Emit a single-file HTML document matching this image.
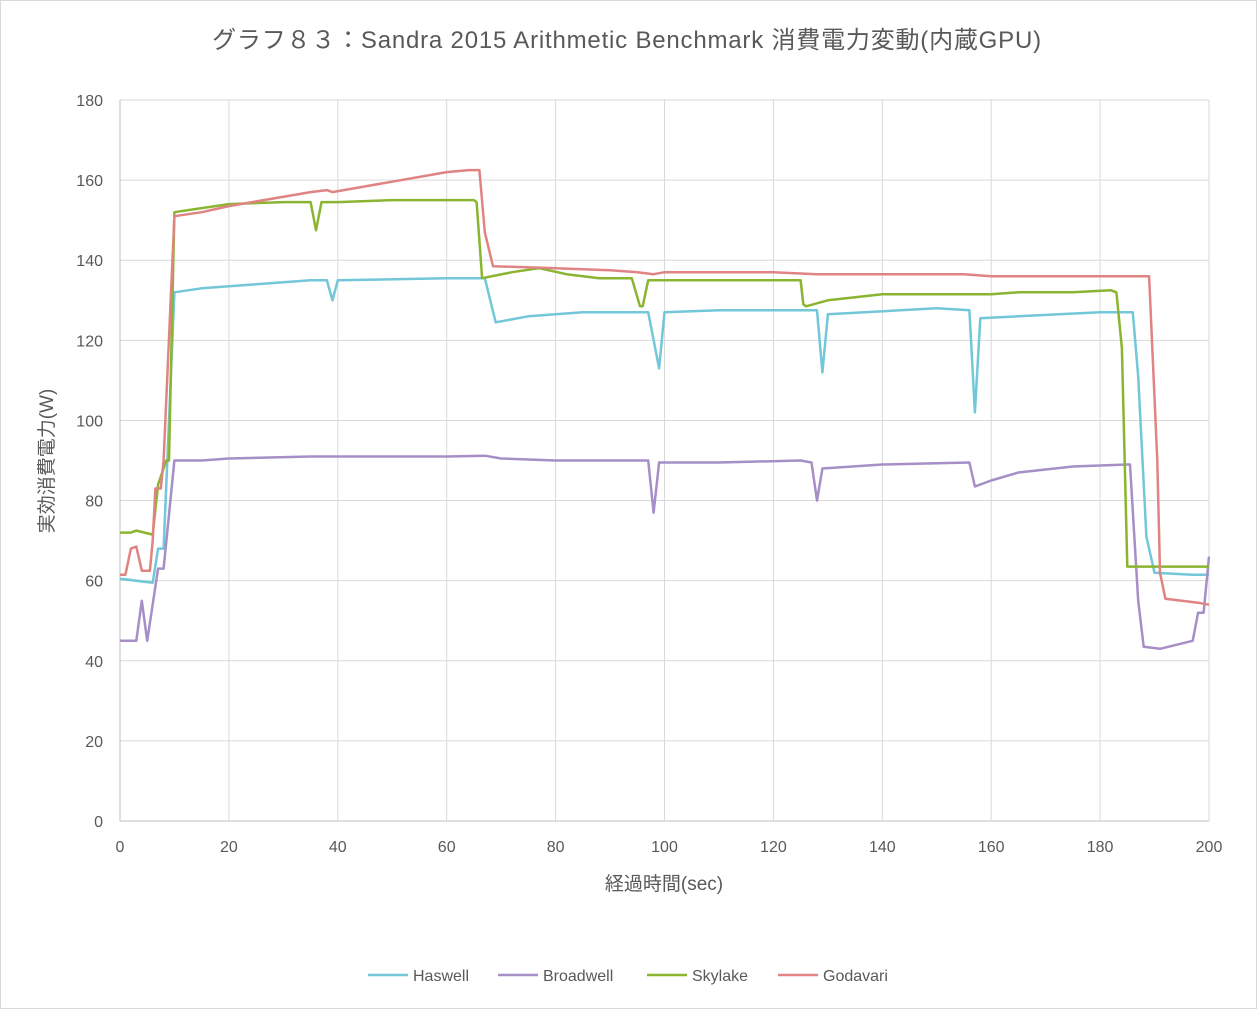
<!DOCTYPE html>
<html><head><meta charset="utf-8"><style>
body{margin:0;background:#fff;font-family:"Liberation Sans","Noto Sans CJK JP",sans-serif;}
svg text{font-family:"Liberation Sans","Noto Sans CJK JP",sans-serif;fill:#595959;}
</style></head><body>
<svg id="chart" width="1257" height="1009" xmlns="http://www.w3.org/2000/svg">
<rect x="0.5" y="0.5" width="1256" height="1008" fill="#fff" stroke="#d9d9d9"/>
<text x="627" y="48" text-anchor="middle" font-size="24" letter-spacing="0.8">グラフ８３：Sandra 2015 Arithmetic Benchmark 消費電力変動(内蔵GPU)</text>
<g id="grid"></g><g id="axes"></g><g id="series"></g>
<text x="664" y="890" text-anchor="middle" font-size="19">経過時間(sec)</text>
<text transform="translate(53,461) rotate(-90)" text-anchor="middle" font-size="19">実効消費電力(W)</text>
<g id="legend"></g>
</svg>
<script>
const xTicks=[0,20,40,60,80,100,120,140,160,180,200];
const yTicks=[0,20,40,60,80,100,120,140,160,180];
const seriesNames=["Haswell","Broadwell","Skylake","Godavari"];
const seriesColors=["#72c7d8","#a58fc6","#8bb531","#df8482"];
const haswellT=[0,6,7,8,10,15,25,35,38,39,40,60,67,69,75,85,97,99,100,110,128,129,130,150,156,157,158,165,180,186,187,188.5,190,197,200];
const haswellV=[60.5,59.5,68,68,132,133,134,135,135,130,135,135.5,135.5,124.5,126,127,127,113,127,127.5,127.5,112,126.5,128,127.5,102,125.5,126,127,127,111,71,62,61.5,61.5];
const broadwellT=[0,3,4,5,7,8,10,15,20,35,60,67,70,80,97,98,99,110,125,127,128,129,140,156,157,160,165,175,185,185.5,187,188,191,197,198,199,200];
const broadwellV=[45,45,55,45,63,63,90,90,90.5,91,91,91.2,90.5,90,90,77,89.5,89.5,90,89.5,80,88,89,89.5,83.5,85,87,88.5,89,89,55,43.5,43,45,52,52,66];
const skylakeT=[0,2,3,6,7,8.5,9,10,15,20,30,35,36,37,40,50,65,65.5,66.5,72,77,82,88,94,95.5,96,97,110,125,125.5,126,130,140,155,160,165,175,182,183,184,185,200];
const skylakeV=[72,72,72.5,71.5,84,90,90,152,153,154,154.5,154.5,147.5,154.5,154.5,155,155,154.5,135.5,137,138,136.5,135.5,135.5,128.5,128.5,135,135,135,129,128.5,130,131.5,131.5,131.5,132,132,132.5,132,118,63.5,63.5];
const godavariT=[0,1,2,3,4,5.5,6,6.5,7.5,8,10,15,20,35,38,39,60,64,66,67,68.5,80,90,95,98,100,120,128,155,160,189,190.5,191,192,195,198,200];
const godavariV=[61.5,61.5,68,68.5,62.5,62.5,70,83,83,90,151,152,153.5,157,157.5,157,162,162.5,162.5,147,138.5,138,137.5,137,136.5,137,137,136.5,136.5,136,136,90,62,55.5,55,54.5,54];
const allT=[haswellT,broadwellT,skylakeT,godavariT];
const allV=[haswellV,broadwellV,skylakeV,godavariV];
const X0=120,X1=1209,Y0=821,Y1=100;
const sx=t=>X0+(t-0)/(200-0)*(X1-X0);
const sy=v=>Y0-(v-0)/(180-0)*(Y0-Y1);
const NS="http://www.w3.org/2000/svg";
const grid=document.getElementById('grid'),axes=document.getElementById('axes'),ser=document.getElementById('series'),leg=document.getElementById('legend');
function mk(tag,parent){const e=document.createElementNS(NS,tag);parent.appendChild(e);return e;}
yTicks.forEach(v=>{
 const l=mk('line',grid);l.setAttribute('x1',X0);l.setAttribute('x2',X1);l.setAttribute('y1',sy(v));l.setAttribute('y2',sy(v));l.setAttribute('stroke',v===0?'#bfbfbf':'#d9d9d9');
 
 
 const t=mk('text',axes);t.setAttribute('x',X0-17);t.setAttribute('y',sy(v)+6);t.setAttribute('text-anchor','end');t.setAttribute('font-size','16');t.textContent=v;
 
 
});
xTicks.forEach(v=>{
 const l=mk('line',grid);l.setAttribute('x1',sx(v));l.setAttribute('x2',sx(v));l.setAttribute('y1',Y1);l.setAttribute('y2',Y0);l.setAttribute('stroke',v===0?'#bfbfbf':'#d9d9d9');
 
 
 const t=mk('text',axes);t.setAttribute('x',sx(v));t.setAttribute('y',Y0+31);t.setAttribute('text-anchor','middle');t.setAttribute('font-size','16');t.textContent=v;
 
 
});
allT.forEach((ts,i)=>{
 const p=mk('polyline',ser);
 p.setAttribute('points',ts.map((t,j)=>sx(t).toFixed(1)+','+sy(allV[i][j]).toFixed(1)).join(' '));
 p.setAttribute('fill','none');p.setAttribute('stroke',seriesColors[i]);p.setAttribute('stroke-width','2.5');p.setAttribute('stroke-linejoin','round');
 
 
});
const legX=[368,498,647,778];
seriesNames.forEach((n,i)=>{
 const g=mk('g',leg);
 
 
 const l=mk('line',g);l.setAttribute('x1',legX[i]);l.setAttribute('x2',legX[i]+40);l.setAttribute('y1',975);l.setAttribute('y2',975);l.setAttribute('stroke',seriesColors[i]);l.setAttribute('stroke-width','2.5');
 const t=mk('text',g);t.setAttribute('x',legX[i]+45);t.setAttribute('y',981);t.setAttribute('font-size','16');t.textContent=n;
});
</script>
</body></html>
